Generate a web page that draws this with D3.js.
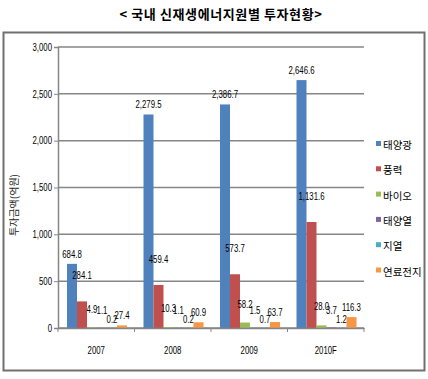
<!DOCTYPE html>
<html>
<head>
<meta charset="utf-8">
<script src="https://cdn.jsdelivr.net/npm/d3@7"></script>
<style>
  body { margin: 0; background: #fff; }
  svg text { font-family: "Liberation Sans", Arial, sans-serif; }
  .kr { font-family: "Noto Sans CJK KR", sans-serif; }
</style>
</head>
<body>
<div id="chart"></div>
<script>
var years = ["2007", "2008", "2009", "2010F"];
var seriesNames = ["태양광", "풍력", "바이오", "태양열", "지열", "연료전지"];
var solarPV = [684.8, 2279.5, 2386.7, 2646.6];
var wind = [284.1, 459.4, 573.7, 1131.6];
var bio = [4.9, 10.3, 58.2, 28.0];
var solarHeat = [1.1, 1.1, 1.5, 3.7];
var geo = [0.2, 0.2, 0.7, 1.2];
var fuelCell = [27.4, 60.9, 63.7, 116.3];
var yTicks = [0, 500, 1000, 1500, 2000, 2500, 3000];

var allSeries = [solarPV, wind, bio, solarHeat, geo, fuelCell];
var colors = ["#4F81BD", "#C0504D", "#9BBB59", "#8064A2", "#4BACC6", "#F79646"];
// excel put the labels a bit above the bars, different per series
var labelLift = [6, 22, 15, 14, 5, 6];

var width = 428, height = 379;
var margin = {left: 58, right: 64, top: 47, bottom: 51};

// narrow look of the original font
var squeeze = "scale(0.78,1)";

var svg = d3.select("#chart").append("svg")
  .attr("width", width)
  .attr("height", height);

// title
svg.append("text")
  .attr("class", "kr")
  .attr("x", 221)
  .attr("y", 19)
  .attr("text-anchor", "middle")
  .style("font-size", "13px")
  .style("font-weight", "bold")
  .style("letter-spacing", "0.6px")
  .text("< 국내 신재생에너지원별 투자현황>");

// frame
svg.append("rect")
  .attr("x", 3.5).attr("y", 32.5)
  .attr("width", 421).attr("height", 338)
  .attr("fill", "none")
  .attr("stroke", "#707070")
  .attr("stroke-width", 2);

var x = d3.scaleBand()
  .domain(years)
  .range([margin.left, width - margin.right]);

var xInner = d3.scaleBand()
  .domain(d3.range(seriesNames.length))
  .range([9, 69]);

var y = d3.scaleLinear()
  .domain([0, 3000])
  .range([height - margin.bottom, margin.top]);

// gridlines
svg.append("g")
  .selectAll("line")
  .data(yTicks)
  .enter().append("line")
  .attr("x1", margin.left)
  .attr("x2", width - margin.right)
  .attr("y1", d => y(d))
  .attr("y2", d => y(d))
  .attr("stroke", "#868686")
  .attr("stroke-width", 1.5);

// y axis
var yAxis = svg.append("g")
  .attr("transform", `translate(${margin.left},0)`)
  .call(d3.axisLeft(y).tickValues(yTicks).tickSize(4).tickFormat(d3.format(",")));
yAxis.select(".domain").attr("stroke", "#868686").attr("stroke-width", 1.5);
yAxis.selectAll(".tick line").attr("stroke", "#868686");
yAxis.selectAll(".tick text").remove();
yAxis.selectAll(".tick").append("g")
  .attr("transform", "translate(-6,0) " + squeeze)
  .append("text")
  .attr("text-anchor", "end")
  .attr("dy", "0.32em")
  .attr("fill", "#000")
  .style("font-size", "10px")
  .text(d => d3.format(",")(d));

svg.append("text")
  .attr("class", "kr")
  .attr("transform", "translate(18,205) rotate(-90)")
  .attr("text-anchor", "middle")
  .attr("fill", "#222")
  .style("font-size", "10px")
  .text("투자금액(억원)");

// bars
var groups = svg.append("g").selectAll("g")
  .data(allSeries)
  .enter().append("g")
  .attr("fill", (d, i) => colors[i]);

groups.each(function(vals, si) {
  d3.select(this).selectAll("rect")
    .data(vals)
    .enter().append("rect")
    .attr("x", (d, i) => x(years[i]) + xInner(si))
    .attr("y", d => y(d))
    .attr("width", xInner.bandwidth())
    .attr("height", d => y(0) - y(d));
});

// value labels
groups.each(function(vals, si) {
  d3.select(this).selectAll("g")
    .data(vals)
    .enter().append("g")
    .attr("transform", (d, i) => {
      var cx = x(years[i]) + xInner(si) + xInner.bandwidth() / 2;
      return `translate(${cx},${y(d) - labelLift[si]}) ` + squeeze;
    })
    .append("text")
    .attr("text-anchor", "middle")
    .attr("fill", "#000")
    .style("font-size", "10px")
    .text(d => d3.format(",.1f")(d));
});

// x axis
var xAxis = svg.append("g")
  .attr("transform", `translate(0,${y(0)})`)
  .call(d3.axisBottom(x).tickSize(0));
xAxis.select(".domain").attr("stroke", "#868686").attr("stroke-width", 1.5);
xAxis.selectAll(".tick text").remove();
xAxis.selectAll(".tick").append("g")
  .attr("transform", "translate(0,26) " + squeeze)
  .append("text")
  .attr("text-anchor", "middle")
  .attr("fill", "#000")
  .style("font-size", "10px")
  .text(d => d);

svg.append("g").selectAll("line")
  .data(years.concat(["end"]))
  .enter().append("line")
  .attr("x1", (d, i) => margin.left + i * x.step())
  .attr("x2", (d, i) => margin.left + i * x.step())
  .attr("y1", y(0))
  .attr("y2", y(0) + 4)
  .attr("stroke", "#868686");

// legend
var legend = svg.append("g").selectAll("g")
  .data(seriesNames)
  .enter().append("g")
  .attr("transform", (d, i) => `translate(376,${146 + i * 25.3})`);

legend.append("rect")
  .attr("x", 0).attr("y", -5)
  .attr("width", 5).attr("height", 5)
  .attr("fill", (d, i) => colors[i]);

legend.append("text")
  .attr("class", "kr")
  .attr("x", 7)
  .attr("y", 3)
  .style("font-size", "10.5px")
  .text(d => d);
</script>
</body>
</html>
